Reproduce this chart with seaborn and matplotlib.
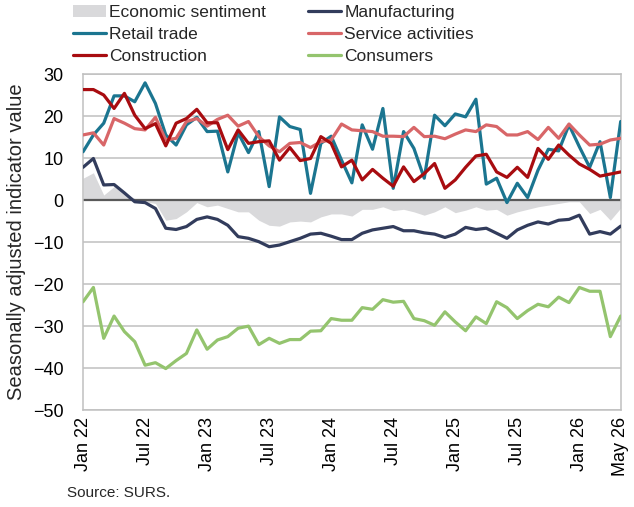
import numpy as np
import pandas as pd
import matplotlib
matplotlib.use("Agg")
import matplotlib.pyplot as plt
from matplotlib.patches import Patch
from matplotlib.lines import Line2D
import seaborn as sns

# monthly survey indicators, Jan 2022 - May 2026
months = pd.date_range("2022-01-01", "2026-05-01", freq="MS")

economic_sentiment = [5.2, 6.5, 1.2, 3.2, 1.6, 0.4, -0.4, -0.8, -4.8, -4.4, -2.8, -0.6, -1.6, -1.2,
                      -2.0, -2.8, -2.8, -4.8, -6.0, -6.2, -5.2, -5.0, -5.2, -4.0, -3.3, -3.3, -3.8,
                      -2.2, -2.2, -1.6, -2.5, -2.2, -2.8, -3.6, -2.8, -1.6, -3.0, -2.4, -1.6, -2.4,
                      -2.2, -3.6, -2.8, -2.2, -1.6, -1.2, -0.8, -0.4, -0.4, -3.2, -2.2, -4.8, -1.9]
manufacturing = [7.8, 9.9, 3.6, 3.7, 1.7, -0.4, -0.6, -2.0, -6.7, -7.0, -6.3, -4.6, -4.0, -4.6,
                 -6.0, -8.7, -9.1, -9.9, -11.1, -10.7, -9.9, -9.1, -8.1, -7.9, -8.6, -9.4, -9.4,
                 -7.9, -7.1, -6.7, -6.3, -7.3, -7.3, -7.8, -8.1, -8.9, -8.1, -6.5, -7.0, -6.7,
                 -7.9, -9.1, -7.1, -6.0, -5.2, -5.7, -4.8, -4.6, -3.6, -8.1, -7.5, -8.1, -6.2]
retail_trade = [11.5, 15.5, 18.3, 24.8, 24.8, 23.4, 27.9, 23.0, 15.5, 13.1, 17.9, 19.7, 16.3, 16.4,
                6.7, 16.0, 11.3, 16.3, 3.2, 19.8, 17.5, 16.8, 1.6, 13.5, 15.2, 9.5, 4.1, 17.9,
                12.1, 21.8, 2.8, 16.3, 12.3, 5.2, 20.2, 17.7, 20.5, 19.8, 24.0, 3.8, 5.2, -0.6,
                4.0, 0.6, 7.1, 12.1, 11.7, 17.9, 12.7, 7.8, 13.9, 0.6, 18.7]
service_activities = [15.5, 16.0, 13.1, 19.4, 18.3, 17.0, 16.7, 19.7, 14.3, 14.7, 18.7, 19.4, 17.6,
                      19.2, 20.2, 17.6, 18.7, 15.1, 12.9, 11.5, 13.5, 13.7, 12.5, 13.9, 14.3, 18.1,
                      16.7, 16.5, 16.3, 15.2, 15.2, 15.1, 17.3, 15.1, 15.2, 14.6, 15.7, 16.7, 16.3,
                      17.9, 17.5, 15.5, 15.5, 16.3, 14.4, 17.3, 14.7, 18.1, 15.5, 13.1, 13.3, 14.3,
                      14.7]
construction = [26.3, 26.3, 25.0, 21.8, 25.4, 20.2, 17.0, 18.2, 12.9, 18.3, 19.4, 21.6, 18.4, 18.4,
                12.0, 16.7, 13.5, 13.9, 14.1, 9.5, 12.5, 9.4, 9.9, 15.1, 13.5, 7.9, 9.5, 4.8, 7.3,
                5.2, 3.3, 7.9, 4.4, 6.3, 8.7, 2.8, 4.8, 7.8, 10.5, 10.9, 6.7, 5.4, 7.8, 5.4, 12.3,
                9.7, 13.1, 10.7, 8.6, 7.3, 5.7, 6.2, 6.7]
consumers = [-24.2, -20.8, -32.9, -27.6, -31.3, -33.7, -39.3, -38.7, -40.1, -38.2, -36.5, -30.9,
             -35.5, -33.3, -32.5, -30.5, -30.0, -34.4, -32.9, -34.1, -33.2, -33.2, -31.2, -31.1,
             -28.2, -28.6, -28.6, -25.6, -26.0, -23.7, -24.3, -24.1, -28.2, -28.7, -29.8, -26.6,
             -29.0, -31.1, -27.8, -29.4, -24.2, -25.6, -28.2, -26.3, -24.8, -25.4, -23.1, -24.4,
             -20.8, -21.7, -21.7, -32.5, -27.6]

tick_positions = [0, 6, 12, 18, 24, 30, 36, 42, 48, 52]
tick_labels = [months[i].strftime("%b %y") for i in tick_positions]

colors = {
    "Manufacturing": "#323c5c",
    "Retail trade": "#1b7590",
    "Service activities": "#d86668",
    "Construction": "#a80c10",
    "Consumers": "#94c46e",
}
fill_color = "#d9d9db"

df = pd.DataFrame({
    "t": np.arange(len(months)),
    "Manufacturing": manufacturing,
    "Retail trade": retail_trade,
    "Service activities": service_activities,
    "Construction": construction,
    "Consumers": consumers,
})
long_df = df.melt(id_vars="t", var_name="series", value_name="value")

sns.set_theme(style="white")
plt.rcParams["font.family"] = ["Liberation Sans", "DejaVu Sans"]

fig = plt.figure(figsize=(6.34, 5.07), dpi=100)
ax = fig.add_axes([0.131, 0.191, 0.848, 0.663])

ax.fill_between(df["t"], 0, economic_sentiment, color=fill_color, lw=0, zorder=1)
ax.axhline(0, color="#595959", lw=1.6, zorder=2)

sns.lineplot(data=long_df, x="t", y="value", hue="series", palette=colors,
             hue_order=list(colors.keys()), linewidth=2.3, legend=False, ax=ax, zorder=3)

ax.set_xlim(0, 52)
ax.set_ylim(-50, 30)
ax.set_yticks(range(-50, 31, 10))
ax.set_xticks(tick_positions)
ax.set_xticklabels(tick_labels, rotation=90)
ax.tick_params(axis="both", length=0, labelsize=13, colors="black")
ax.tick_params(axis="y", pad=14)
ax.tick_params(axis="x", pad=5)
ax.grid(axis="y", color="#c0c0c0", lw=1.1)
ax.set_axisbelow(True)
for sp in ax.spines.values():
    sp.set_color("#c0c0c0")
    sp.set_linewidth(1.1)
ax.set_xlabel("")
ax.set_ylabel("Seasonally adjusted indicator value", fontsize=14.5, labelpad=5)

# legend: column-wise order to match the two-column layout
handles = [
    Patch(facecolor=fill_color, edgecolor="none"),
    Line2D([], [], color=colors["Retail trade"], lw=2.3),
    Line2D([], [], color=colors["Construction"], lw=2.3),
    Line2D([], [], color=colors["Manufacturing"], lw=2.3),
    Line2D([], [], color=colors["Service activities"], lw=2.3),
    Line2D([], [], color=colors["Consumers"], lw=2.3),
]
labels = ["Economic sentiment", "Retail trade", "Construction",
          "Manufacturing", "Service activities", "Consumers"]
fig.legend(handles, labels, ncol=2, loc="upper left", bbox_to_anchor=(0.112, 0.993),
           frameon=False, fontsize=12.5, handlelength=1.9, handletextpad=0.2,
           columnspacing=2.4, labelspacing=0.38, borderpad=0.1, borderaxespad=0)

fig.text(67 / 634, 1 - 493 / 507, "Source: SURS.", fontsize=11, va="center", ha="left")

fig.savefig("out.png", dpi=100)
